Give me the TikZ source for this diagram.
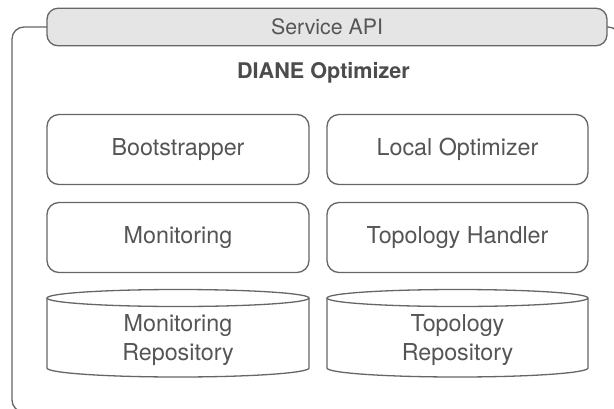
\documentclass[tikz,border=0pt]{standalone}
\usepackage{fontspec}
\setmainfont{TeX Gyre Heros}
\definecolor{linegray}{HTML}{666666}
\definecolor{txtgray}{HTML}{555555}
\definecolor{apifill}{HTML}{E5E5E5}
\tikzset{
  stroke/.style={draw=linegray, line width=1.3pt},
  compbox/.style={stroke, rounded corners=12pt, fill=white, minimum width=262pt, minimum height=70pt, inner sep=0pt, text=txtgray, font=\fontsize{23.3}{27}\selectfont},
  apibox/.style={stroke, rounded corners=11pt, fill=apifill, minimum width=560pt, minimum height=37.5pt, inner sep=0pt, text=txtgray, font=\fontsize{21.3}{25}\selectfont},
  repotext/.style={text=txtgray, align=center, inner sep=0pt, font=\fontsize{23.3}{29}\selectfont},
  titletext/.style={text=txtgray!90!black, inner sep=0pt, font=\bfseries\fontsize{21.6}{25}\selectfont}
}
\begin{document}
\begin{tikzpicture}[x=1pt,y=1pt]
\useasboundingbox (0,0) rectangle (614,-408);
\begin{scope}
\clip (0,0) rectangle (614,-408);
\draw[stroke, rounded corners=12pt] (12,-27) rectangle (620,-412);
\end{scope}
\node[apibox] (api) at (327,-27) {Service API};
\node[titletext] (title) at (323.5,-73) {DIANE Optimizer};
\node[compbox] (boot) at (178,-149.5) {Bootstrapper};
\node[compbox, minimum width=261pt] (local) at (457.5,-149.5) {Local Optimizer};
\node[compbox] (mon) at (178,-237.5) {Monitoring};
\node[compbox, minimum width=261pt] (topo) at (457.5,-237.5) {Topology Handler};
% cylinders
\draw[stroke, fill=white] (47,-298) -- (47,-368) arc[start angle=180, end angle=360, x radius=131pt, y radius=9pt] -- (309,-298);
\draw[stroke, fill=white] (178,-298) ellipse[x radius=131pt, y radius=8.5pt];
\draw[stroke, fill=white] (327,-298) -- (327,-368) arc[start angle=180, end angle=360, x radius=130.5pt, y radius=9pt] -- (588,-298);
\draw[stroke, fill=white] (457.5,-298) ellipse[x radius=130.5pt, y radius=8.5pt];
\node[repotext] (monrepo) at (178,-340) {Monitoring\\Repository};
\node[repotext] (toporepo) at (457.5,-340) {Topology\\Repository};
\end{tikzpicture}
\end{document}
